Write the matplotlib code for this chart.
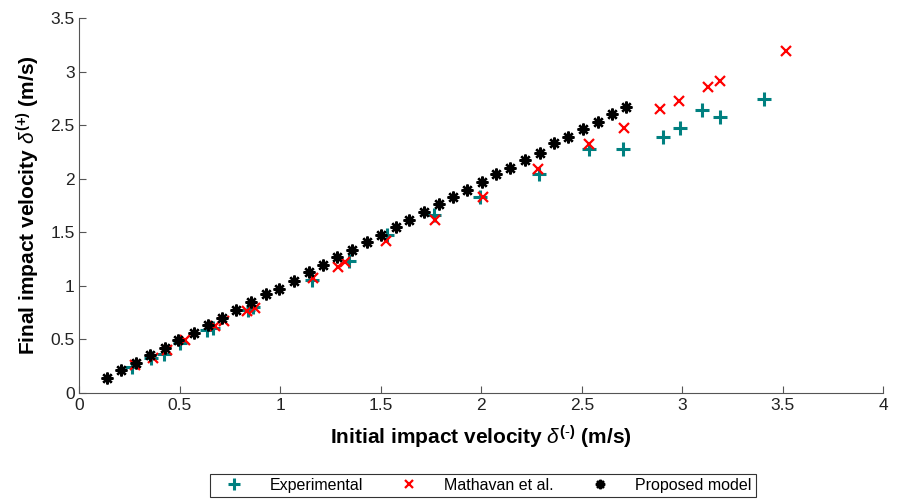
import matplotlib.pyplot as plt
import numpy as np

plt.rcParams['font.family'] = ['Liberation Sans', 'DejaVu Sans']
plt.rcParams['mathtext.fontset'] = 'custom'
plt.rcParams['mathtext.rm'] = 'Liberation Sans'
plt.rcParams['mathtext.it'] = 'Liberation Sans:italic'
plt.rcParams['mathtext.bf'] = 'Liberation Sans:bold'

# experimental data (teal +)
exp_x = [0.263, 0.356, 0.422, 0.500, 0.633, 0.666, 0.841, 0.866, 1.156, 1.339,
         1.533, 1.762, 1.995, 2.285, 2.534, 2.705, 2.904, 2.990, 3.099, 3.190, 3.407]
exp_y = [0.246, 0.324, 0.361, 0.464, 0.588, 0.610, 0.775, 0.800, 1.055, 1.235,
         1.472, 1.662, 1.833, 2.045, 2.278, 2.275, 2.393, 2.472, 2.640, 2.580, 2.742]

# Mathavan et al. (red x)
mat_x = [0.276, 0.368, 0.434, 0.525, 0.675, 0.721, 0.833, 0.874, 1.164, 1.286, 1.322,
         1.526, 1.770, 2.008, 2.280, 2.534, 2.708, 2.891, 2.984, 3.128, 3.190, 3.518]
mat_y = [0.261, 0.330, 0.400, 0.495, 0.628, 0.672, 0.766, 0.791, 1.071, 1.174, 1.226,
         1.420, 1.615, 1.827, 2.092, 2.325, 2.471, 2.649, 2.729, 2.860, 2.910, 3.196]

# proposed model (black asterisks)
mod_x = [0.135, 0.205, 0.281, 0.351, 0.424, 0.492, 0.569, 0.640, 0.710, 0.781,
         0.853, 0.927, 0.995, 1.068, 1.141, 1.214, 1.284, 1.356, 1.430, 1.501,
         1.573, 1.642, 1.717, 1.789, 1.859, 1.931, 2.003, 2.073, 2.145, 2.219,
         2.290, 2.360, 2.431, 2.506, 2.579, 2.650, 2.722]
mod_y = [0.143, 0.215, 0.277, 0.352, 0.420, 0.495, 0.563, 0.632, 0.700, 0.778,
         0.847, 0.922, 0.974, 1.049, 1.133, 1.192, 1.267, 1.335, 1.407, 1.475,
         1.550, 1.615, 1.693, 1.762, 1.830, 1.895, 1.967, 2.042, 2.104, 2.176,
         2.244, 2.331, 2.393, 2.462, 2.533, 2.605, 2.668]

xticks = [0, 0.5, 1, 1.5, 2, 2.5, 3, 3.5, 4]
yticks = [0, 0.5, 1, 1.5, 2, 2.5, 3, 3.5]

fig = plt.figure(figsize=(8.99, 5), dpi=100)
ax = fig.add_axes([0.0884, 0.214, 0.894, 0.750])

ax.plot(exp_x, exp_y, linestyle='none', marker='+', color='#008080',
        markersize=10, markeredgewidth=2.2, label='Experimental')
ax.plot(mat_x, mat_y, linestyle='none', marker='x', color='#ff0000',
        markersize=7, markeredgewidth=1.6, label='Mathavan et al.')
ax.plot(mod_x, mod_y, linestyle='none', marker=(8, 2, 0), color='black',
        markersize=8.5, markeredgewidth=1.7, label='Proposed model')

ax.set_xlim(0, 4)
ax.set_ylim(0, 3.5)
ax.set_xticks(xticks)
ax.set_xticklabels([f'{t:g}' for t in xticks])
ax.set_yticks(yticks)
ax.set_yticklabels([f'{t:g}' for t in yticks])

for s in ['top', 'right']:
    ax.spines[s].set_visible(False)
for s in ['left', 'bottom']:
    ax.spines[s].set_color('#555555')
    ax.spines[s].set_linewidth(0.8)
ax.tick_params(direction='in', length=5, width=0.8, color='#555555',
               labelsize=12.5, labelcolor='#222222')

ax.set_xlabel(r'Initial impact velocity $\it{\delta}^{\mathbf{(\text{-})}}$ (m/s)',
              fontsize=15, fontweight='bold', labelpad=8)
ax.set_ylabel(r'Final impact velocity $\it{\delta}^{\mathbf{(+)}}$ (m/s)',
              fontsize=15, fontweight='bold', labelpad=6)

leg = fig.legend(loc='center', bbox_to_anchor=(0.537, 0.029), ncol=3,
                 fontsize=11.5, frameon=True, fancybox=False, edgecolor='black',
                 columnspacing=1.6, handlelength=2.6, handletextpad=0.9,
                 borderpad=0.25, markerscale=0.8)
leg.get_frame().set_linewidth(0.8)

fig.savefig('out.png', dpi=100)
